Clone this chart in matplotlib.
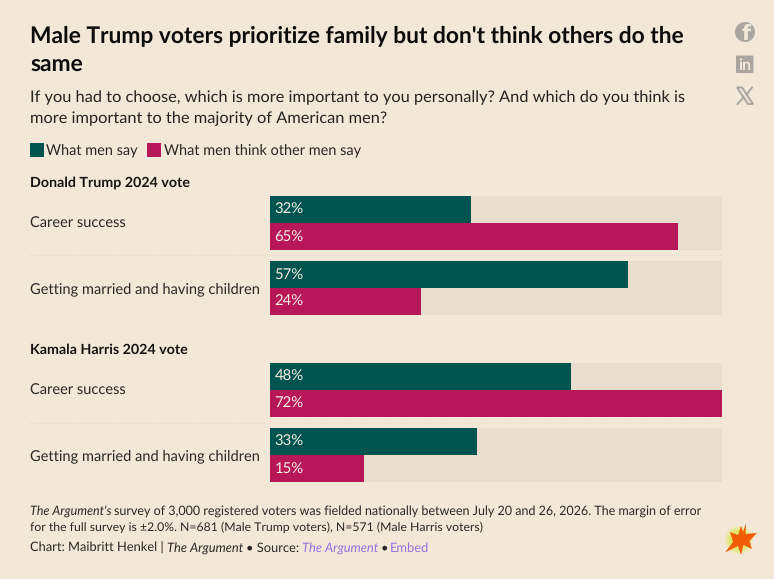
import matplotlib
matplotlib.use("Agg")
import matplotlib.pyplot as plt
from matplotlib.patches import Circle, FancyBboxPatch, Polygon, Rectangle

W, H = 774, 579
BG = "#f3e8d8"
TRACK = "#e9ddcd"
GREEN = "#00544f"
CRIMSON = "#b71759"
INK = "#1d1a18"
GREY = "#a9a6a1"
PURPLE = "#9a6fe0"

plt.rcParams["font.family"] = ["Lato", "DejaVu Sans"]
plt.rcParams["text.hinting"] = "none"

title_lines = ["Male Trump voters prioritize family but don't think others do the", "same"]
subtitle_lines = ["If you had to choose, which is more important to you personally? And which do you think is",
                  "more important to the majority of American men?"]
series_names = ["What men say", "What men think other men say"]
categories = ["Career success", "Getting married and having children"]
groups = ["Donald Trump 2024 vote", "Kamala Harris 2024 vote"]
trump_say = [32, 57]
trump_think = [65, 24]
harris_say = [48, 33]
harris_think = [72, 15]
x_max = 72

fig = plt.figure(figsize=(W / 100, H / 100), dpi=100, facecolor=BG)

def fx(x): return x / W
def fy(y): return 1 - y / H

def txt(x, y, s, size, **kw):
    kw.setdefault("color", INK)
    kw.setdefault("va", "center")
    return fig.text(fx(x), fy(y), s, fontsize=size, **kw)

def panel(top, say, think):
    ax = fig.add_axes([fx(270), fy(top + 119), fx(452), 119 / H])
    ax.set_facecolor("none")
    ax.set_xlim(0, x_max)
    ax.set_ylim(119, 0)
    for i, (a, b) in enumerate(zip(say, think)):
        y0 = 13.5 + i * 65
        ax.barh([y0, y0 + 27], [x_max, x_max], height=27, color=TRACK, linewidth=0)
        ax.barh(y0, a, height=27, color=GREEN, linewidth=0)
        ax.barh(y0 + 27, b, height=27, color=CRIMSON, linewidth=0)
        ax.text(0.72, y0 + 0.5, f"{a}%", color="#f6eee2", fontsize=10.7, va="center", ha="left")
        ax.text(0.72, y0 + 27.5, f"{b}%", color="#f6eee2", fontsize=10.7, va="center", ha="left")
        txt(30, top + y0 + 14.5, categories[i], 10.56, color="#2b2724")
    ax.axis("off")
    fig.add_artist(plt.Line2D([fx(30), fx(722)], [fy(top + 59.5)] * 2, color="#e3d8c8",
                              lw=0.8, ls=(0, (1, 2))))

# Headings
for i, line in enumerate(title_lines):
    txt(30, 36 + i * 28.5, line, 16.37, fontweight="bold", color="#0e0c0b")
for i, line in enumerate(subtitle_lines):
    txt(30, 98 + i * 21, line, 11.83, color="#26221f")

# Legend
fig.add_artist(Rectangle((fx(30), fy(157)), 14 / W, 14 / H, color=GREEN, lw=0, transform=fig.transFigure))
txt(46.5, 150.5, series_names[0], 10.45, color="#2b2724")
fig.add_artist(Rectangle((fx(147), fy(157)), 14 / W, 14 / H, color=CRIMSON, lw=0, transform=fig.transFigure))
txt(164, 150.5, series_names[1], 10.45, color="#2b2724")

# Panels
txt(30, 183, groups[0], 10.25, fontweight="bold", color="#15120f")
panel(196, trump_say, trump_think)
txt(30, 350, groups[1], 10.25, fontweight="bold", color="#15120f")
panel(363, harris_say, harris_think)

# Footer
fig.canvas.draw()
r = fig.canvas.get_renderer()

def chain(x, y, parts, fs):
    for s, kw in parts:
        a = txt(x, y, s, fs, **kw)
        x = a.get_window_extent(r).x1
    return x

SP = 2.4
fs = 9.04
x = chain(30, 511, [("The Argument's", dict(style="italic", color="#2b2724"))], fs)
chain(x + SP, 511, [("survey of 3,000 registered voters was fielded nationally between July 20 and 26, 2026. The margin of error",
                     dict(color="#2b2724"))], fs)
txt(30, 527, "for the full survey is ±2.0%. N=681 (Male Trump voters), N=571 (Male Harris voters)", 8.85, color="#2b2724")
fs = 9.3
x = chain(30, 548, [("Chart: Maibritt Henkel | ", dict(color="#2b2724"))], fs)
x = chain(x + 0.5, 548, [("The Argument", dict(style="italic", color="#2b2724"))], fs)
x = chain(x + SP, 548, [("• Source:", dict(color="#2b2724"))], fs)
x = chain(x + SP, 548, [("The Argument", dict(style="italic", color=PURPLE))], fs)
x = chain(x + SP, 548, [("•", dict(color="#2b2724"))], fs)
chain(x + SP, 548, [("Embed", dict(color=PURPLE))], fs)

# Overlay axes in pixel space for icons
ov = fig.add_axes([0, 0, 1, 1], facecolor="none", zorder=5)
ov.set_xlim(0, W)
ov.set_ylim(H, 0)
ov.axis("off")
ov.add_patch(Circle((745, 32), 10, color=GREY, lw=0))
ov.text(746.5, 34.5, "f", color=BG, fontsize=15, fontweight="bold", ha="center", va="center",
        family="DejaVu Sans")
ov.add_patch(FancyBboxPatch((736, 55.5), 17.5, 17.5, boxstyle="round,pad=0,rounding_size=1.2", color=GREY, lw=0))
ov.text(745, 65, "in", color=BG, fontsize=11.5, fontweight="bold", ha="center", va="center")
ov.add_patch(Polygon([(737, 87.5), (742, 87.5), (753, 104), (748, 104)], closed=True, fill=False, ec=GREY, lw=1.4))
ov.plot([752, 746.5], [87.5, 94.5], color=GREY, lw=1.4)
ov.plot([743.5, 737.5], [97.5, 104], color=GREY, lw=1.4)

# Burst logo
for rad, al in [(14.5, 0.14), (13, 0.22), (11.5, 0.32), (10, 0.45)]:
    ov.add_patch(Circle((739, 540), rad, color="#d9e84a", alpha=al, lw=0))
ov.add_patch(Polygon([(746, 523), (745.5, 534), (757, 533), (749.5, 541), (752, 549), (743.5, 545), (741, 555),
                      (738, 546), (725, 552.5), (733, 542), (730, 532), (738, 535), (741, 526), (743, 532)],
                     closed=True, color="#f35c06", lw=0))

fig.savefig("out.png", dpi=100, facecolor=BG)
